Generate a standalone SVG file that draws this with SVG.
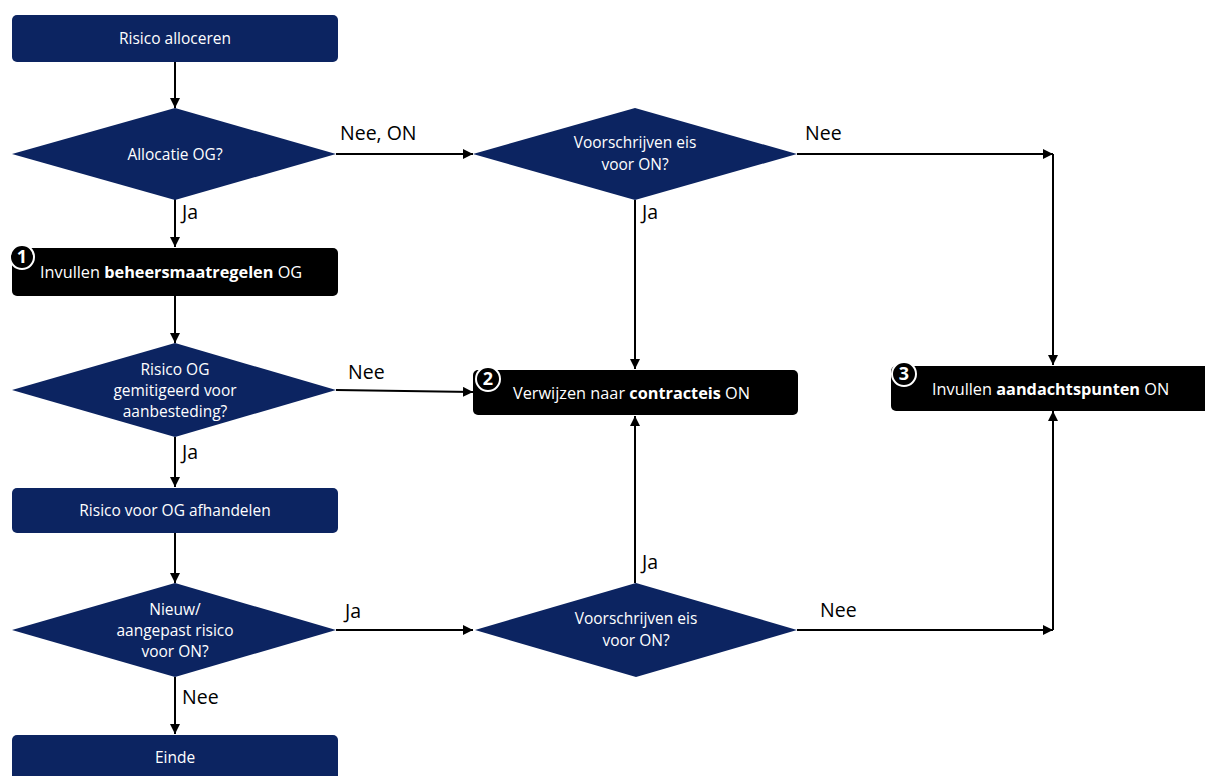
<svg xmlns="http://www.w3.org/2000/svg" width="1205" height="776" viewBox="0 0 1205 776">
<defs>
<style>
.nv{fill:#0c2461}
.bk{fill:#000}
.t{font-family:"Open Sans","Liberation Sans",sans-serif;font-size:15.5px;fill:#fff;text-anchor:middle}
.tl{font-family:"Open Sans","Liberation Sans",sans-serif;font-size:16.3px;fill:#fff}
.b{font-weight:bold}
.lb{font-family:"Open Sans","Liberation Sans",sans-serif;font-size:19.5px;fill:#000}
.c{stroke:#000;stroke-width:2;fill:none}
.bd{fill:#000;stroke:#fff;stroke-width:2}
.bn{font-family:"Open Sans","Liberation Sans",sans-serif;font-size:18px;font-weight:bold;fill:#fff;text-anchor:middle}
</style>
<marker id="ah" viewBox="0 0 10 10" refX="10" refY="5" markerWidth="5" markerHeight="5" orient="auto">
<path d="M0,0 L10,5 L0,10 z" fill="#000"/>
</marker>
</defs>
<rect width="1205" height="776" fill="#fff"/>
<g id="connectors">
<line class="c" x1="175" y1="62" x2="175" y2="108" marker-end="url(#ah)"/>
<line class="c" x1="175" y1="199" x2="175" y2="247" marker-end="url(#ah)"/>
<line class="c" x1="175" y1="296" x2="175" y2="343" marker-end="url(#ah)"/>
<line class="c" x1="175" y1="437" x2="175" y2="487" marker-end="url(#ah)"/>
<line class="c" x1="175" y1="533" x2="175" y2="583" marker-end="url(#ah)"/>
<line class="c" x1="175" y1="677" x2="175" y2="734" marker-end="url(#ah)"/>
<line class="c" x1="336" y1="154" x2="473" y2="154" marker-end="url(#ah)"/>
<line class="c" x1="336" y1="390" x2="473" y2="392" marker-end="url(#ah)"/>
<line class="c" x1="336" y1="630" x2="473" y2="630" marker-end="url(#ah)"/>
<line class="c" x1="635" y1="200" x2="635" y2="369" marker-end="url(#ah)"/>
<line class="c" x1="635" y1="583" x2="635" y2="416" marker-end="url(#ah)"/>
<line class="c" x1="797" y1="154" x2="1053" y2="154" marker-end="url(#ah)"/>
<line class="c" x1="1053" y1="154" x2="1053" y2="365" marker-end="url(#ah)"/>
<line class="c" x1="797" y1="630" x2="1053" y2="630" marker-end="url(#ah)"/>
<line class="c" x1="1053" y1="630" x2="1053" y2="411" marker-end="url(#ah)"/>
<text class="lb" x="340" y="140">Nee, ON</text>
<text class="lb" x="182" y="219">Ja</text>
<text class="lb" x="348" y="379">Nee</text>
<text class="lb" x="182" y="459">Ja</text>
<text class="lb" x="345" y="618">Ja</text>
<text class="lb" x="182" y="704">Nee</text>
<text class="lb" x="642" y="219">Ja</text>
<text class="lb" x="805" y="140">Nee</text>
<text class="lb" x="642" y="569">Ja</text>
<text class="lb" x="820" y="617">Nee</text>
</g>
<g id="n-alloceren">
<rect class="nv" x="12" y="15" width="326" height="47" rx="5"/>
<text class="t" x="175" y="44">Risico alloceren</text>
</g>
<g id="d-allocatie">
<polygon class="nv" points="175,108 336,154 175,200 12,154"/>
<text class="t" x="175" y="160">Allocatie OG?</text>
</g>
<g id="n-beheers">
<rect class="bk" x="12" y="248" width="326" height="48" rx="5"/>
<text class="tl" x="40" y="278">Invullen <tspan class="b">beheersmaatregelen</tspan> OG</text>
<circle class="bd" cx="22" cy="257" r="12"/>
<text class="bn" x="22" y="263">1</text>
</g>
<g id="d-gemitigeerd">
<polygon class="nv" points="175,343 336,390 175,437 12,390"/>
<text class="t" x="175" y="375">Risico OG</text>
<text class="t" x="175" y="396">gemitigeerd voor</text>
<text class="t" x="175" y="417">aanbesteding?</text>
</g>
<g id="n-afhandelen">
<rect class="nv" x="12" y="488" width="326" height="45" rx="5"/>
<text class="t" x="175" y="516">Risico voor OG afhandelen</text>
</g>
<g id="d-nieuw">
<polygon class="nv" points="175,583 336,630 175,677 12,630"/>
<text class="t" x="175" y="615">Nieuw/</text>
<text class="t" x="175" y="636">aangepast risico</text>
<text class="t" x="175" y="657">voor ON?</text>
</g>
<g id="n-einde">
<rect class="nv" x="12" y="735" width="326" height="45" rx="5"/>
<text class="t" x="175" y="763">Einde</text>
</g>
<g id="d-voorschrijven1">
<polygon class="nv" points="635,108 797,154 635,200 473,154"/>
<text class="t" x="635" y="148">Voorschrijven eis</text>
<text class="t" x="635" y="170">voor ON?</text>
</g>
<g id="n-contracteis">
<rect class="bk" x="473" y="370" width="325" height="45" rx="5"/>
<text class="tl" x="513" y="399">Verwijzen naar <tspan class="b">contracteis</tspan> ON</text>
<circle class="bd" cx="488" cy="379" r="12"/>
<text class="bn" x="488" y="385">2</text>
</g>
<g id="d-voorschrijven2">
<polygon class="nv" points="636,583 797,630 636,677 475,630"/>
<text class="t" x="636" y="624">Voorschrijven eis</text>
<text class="t" x="636" y="646">voor ON?</text>
</g>
<g id="n-aandachtspunten">
<rect class="bk" x="891" y="366" width="325" height="45" rx="5"/>
<text class="tl" x="932" y="395">Invullen <tspan class="b">aandachtspunten</tspan> ON</text>
<circle class="bd" cx="904" cy="374" r="12"/>
<text class="bn" x="904" y="380">3</text>
</g>
</svg>
